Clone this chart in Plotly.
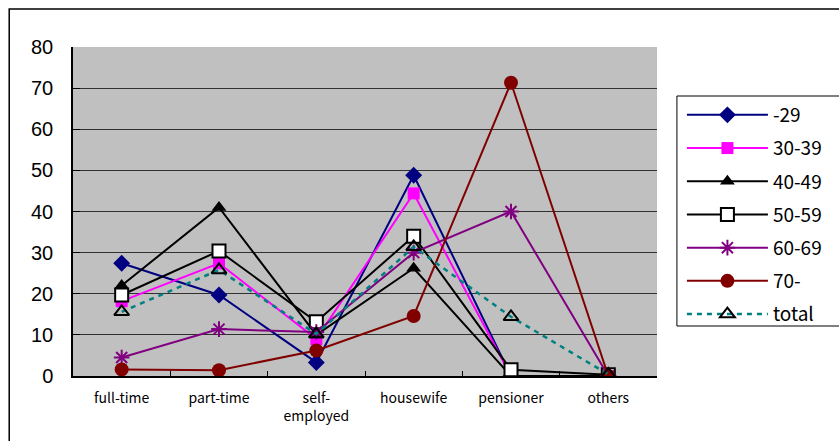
import plotly.graph_objects as go

# Occupation categories (x axis)
categories = ["full-time", "part-time", "self-<br>employed", "housewife", "pensioner", "others"]

# Share (%) by age group
age_29 = [27.4, 19.7, 3.3, 48.8, 0.0, 0.0]
age_30_39 = [18.2, 27.4, 9.0, 44.4, 0.0, 0.0]
age_40_49 = [22.0, 41.0, 10.0, 26.2, 0.0, 0.0]
age_50_59 = [19.7, 30.4, 13.2, 34.0, 1.5, 0.3]
age_60_69 = [4.5, 11.4, 10.7, 30.0, 40.0, 0.0]
age_70 = [1.6, 1.4, 6.2, 14.6, 71.3, 0.0]
total = [15.6, 25.8, 10.2, 31.4, 14.4, 0.4]

y_ticks = [0, 10, 20, 30, 40, 50, 60, 70, 80]

series = [
    ("-29", age_29, dict(color="#000080", width=2), dict(symbol="diamond", size=13, color="#000080")),
    ("30-39", age_30_39, dict(color="#FF00FF", width=2), dict(symbol="square", size=12, color="#FF00FF")),
    ("40-49", age_40_49, dict(color="#000000", width=2), dict(symbol="triangle-up", size=13, color="#000000")),
    ("50-59", age_50_59, dict(color="#000000", width=2),
     dict(symbol="square", size=13, color="#FFFFFF", line=dict(color="#000000", width=2))),
    ("60-69", age_60_69, dict(color="#800080", width=2),
     dict(symbol="asterisk-open", size=13, color="#800080", line=dict(color="#800080", width=2))),
    ("70-", age_70, dict(color="#800000", width=2), dict(symbol="circle", size=14, color="#800000")),
    ("total", total, dict(color="#008080", width=2.5, dash="5px,5px"),
     dict(symbol="triangle-up-open", size=13, color="#000000", line=dict(color="#000000", width=2))),
]

fig = go.Figure()
for name, vals, line, marker in series:
    fig.add_trace(go.Scatter(
        x=categories, y=vals, name=name, mode="lines+markers",
        line=line, marker=marker, legendgroup=name,
    ))

W, H = 839, 441
L, R, T, B = 73, 180, 47, 65
pw, ph = W - L - R, H - T - B


def px_x(v):
    return (v - L) / pw


def px_y(v):
    return (H - B - v) / ph


fig.update_layout(
    width=W, height=H,
    margin=dict(l=L, r=R, t=T, b=B, pad=0),
    paper_bgcolor="#FFFFFF",
    plot_bgcolor="#C0C0C0",
    font=dict(family="Noto Sans CJK JP, Liberation Sans, sans-serif", color="#000000"),
    showlegend=True,
    legend=dict(
        x=px_x(684), y=px_y(96), xanchor="left", yanchor="top",
        bgcolor="rgba(0,0,0,0)", borderwidth=0,
        font=dict(size=19, family="Noto Sans CJK JP, sans-serif"),
        itemwidth=81, tracegroupgap=5.5,
    ),
    shapes=[
        # outer chart frame
        dict(type="rect", xref="paper", yref="paper",
             x0=px_x(9), x1=px_x(900), y0=px_y(9), y1=px_y(500),
             line=dict(color="#000000", width=1.5), layer="below"),
        # legend frame
        dict(type="rect", xref="paper", yref="paper",
             x0=px_x(679), x1=px_x(900), y0=px_y(96), y1=px_y(326),
             line=dict(color="#000000", width=1), fillcolor="#FFFFFF", layer="below"),
    ],
)

fig.update_xaxes(
    type="category", range=[-0.5, 5.5],
    showline=True, linecolor="#000000", linewidth=1.5,
    ticks="inside", tickson="boundaries", ticklen=5, tickcolor="#000000",
    showgrid=False, zeroline=False, ticklabelstandoff=8,
    tickfont=dict(size=14, family="Noto Sans CJK JP, sans-serif"),
)
fig.update_yaxes(
    range=[0, 80], tickvals=y_ticks,
    showline=True, linecolor="#000000", linewidth=1.5,
    ticks="inside", ticklen=7, tickcolor="#000000",
    showgrid=True, gridcolor="#303030", gridwidth=1,
    zeroline=False, ticklabelstandoff=14,
    tickfont=dict(size=20, family="Liberation Sans, Arial, sans-serif"),
)

fig.write_html("out.html")
